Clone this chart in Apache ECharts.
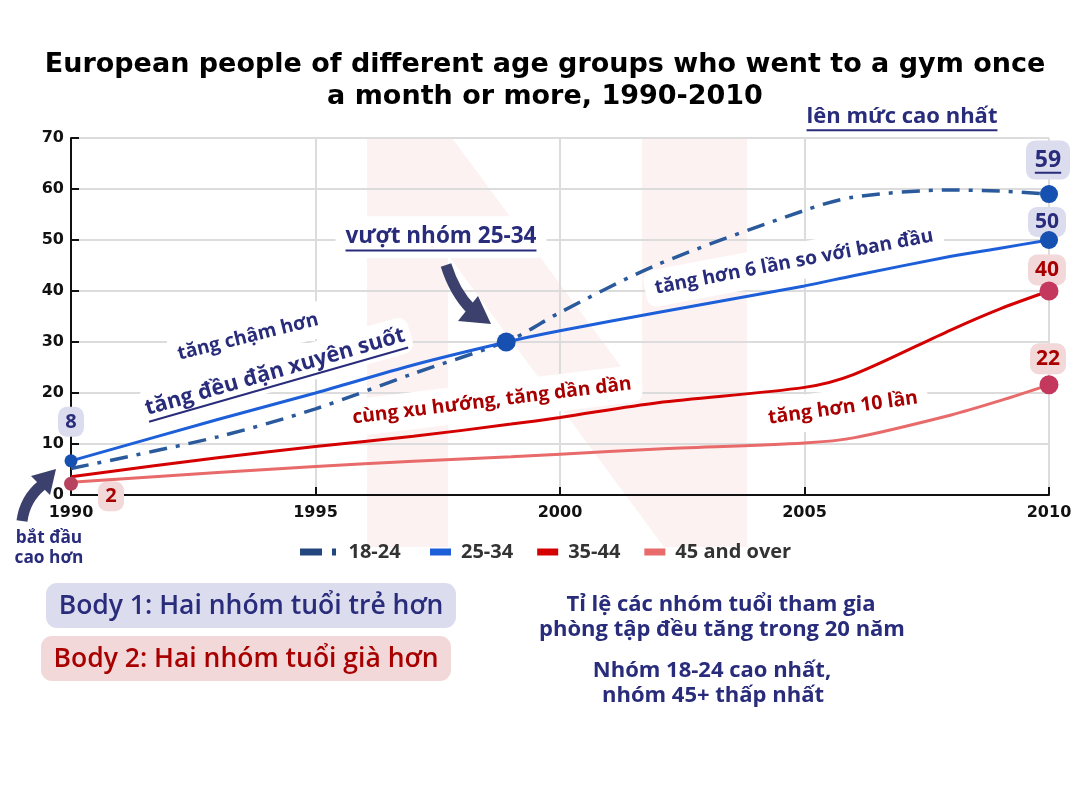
<!DOCTYPE html>
<html><head><meta charset="utf-8">
<script src="https://cdn.jsdelivr.net/npm/echarts@6/dist/echarts.min.js"></script>
<style>html,body{margin:0;padding:0;background:#fff}#c{width:1080px;height:790px}</style>
</head><body><div id="c"></div>
<script>
// ---------- data ----------
const titleLines = ['European people of different age groups who went to a gym once', 'a month or more, 1990-2010'];
const years = [1990, 1993, 1995, 1997, 1999, 2000, 2002, 2005, 2006, 2008, 2009, 2010];
const age18_24 = [5.2, 11.4, 16.9, 23.8, 30.5, 35.8, 45.2, 55.8, 58.4, 59.8, 59.6, 59.0];
const age25_34 = [6.7, 14.8, 20.0, 25.5, 30.2, 32.2, 35.8, 41.0, 43.0, 46.8, 48.4, 50.0];
const age35_44 = [3.6, 7.3, 9.5, 11.5, 13.9, 15.2, 18.1, 21.1, 23.6, 32.4, 36.5, 40.0];
const age45plus = [2.5, 4.4, 5.6, 6.6, 7.5, 8.0, 9.0, 10.2, 11.2, 15.7, 18.5, 21.6];
const seriesNames = ['18-24', '25-34', '35-44', '45 and over'];
const xTicks = [1990, 1995, 2000, 2005, 2010];
const yTicks = [0, 10, 20, 30, 40, 50, 60, 70];
const crossing = [1998.9, 30];           // where 18-24 overtakes 25-34
const endLabels = ['59', '50', '40', '22'];
const startLabels = ['8', '2'];          // 25-34 and 45+ in 1990

// ---------- styles ----------
const NAVY = '#282c7b', DRED = '#a80000';
const BLUE_M = '#1650b0', CRIM_M = '#c4385e';
const colors = ['#2a5a9c', '#1d5fd8', '#d40000', '#e86a6a'];
const OS = '"Open Sans", "Noto Sans", sans-serif';
const mctx = document.createElement('canvas').getContext('2d');
function tw(t, f) { mctx.font = f; return mctx.measureText(t).width; }

function pairs(vals) { return years.map((y, i) => [y, vals[i]]); }

const chart = echarts.init(document.getElementById('c'), null, { renderer: 'canvas' });
const labelTxt = { fontFamily: 'DejaVu Sans', fontWeight: 'bold', fontSize: 16, color: '#111' };
const legText = { fontFamily: OS, fontWeight: 'bold', fontSize: 20, color: '#333', padding: [0, 0, 0, 5] };

chart.setOption({
  backgroundColor: '#fff',
  animation: false,
  title: {
    text: titleLines.join('\n'), left: 540, top: 44, textAlign: 'center',
    textStyle: { fontFamily: 'DejaVu Sans', fontWeight: 'bold', fontSize: 27, color: '#000', lineHeight: 32 }
  },
  grid: { left: 71, right: 31, top: 138, bottom: 295, containLabel: false },
  xAxis: {
    type: 'value', min: xTicks[0], max: xTicks[xTicks.length - 1], interval: xTicks[1] - xTicks[0],
    axisLine: { lineStyle: { color: '#111', width: 2 } },
    axisTick: { show: true, inside: true, length: 8, lineStyle: { color: '#111', width: 2 } },
    axisLabel: Object.assign({ margin: 10, formatter: v => String(v) }, labelTxt),
    splitLine: { show: true, lineStyle: { color: '#dcdcdc', width: 2 } }
  },
  yAxis: {
    type: 'value', min: yTicks[0], max: yTicks[yTicks.length - 1], interval: yTicks[1] - yTicks[0],
    axisLine: { show: true, lineStyle: { color: '#111', width: 2 } },
    axisTick: { show: true, inside: true, length: 8, lineStyle: { color: '#111', width: 2 } },
    axisLabel: Object.assign({ margin: 7 }, labelTxt),
    splitLine: { show: true, lineStyle: { color: '#dcdcdc', width: 2 } }
  },
  legend: [
    { data: [{ name: seriesNames[0], icon: 'path://M0 0H22V7H0Z M32 0H36V7H32Z', itemStyle: { color: '#23467f' } }],
      left: 295, top: 537, itemWidth: 41, itemHeight: 7, textStyle: legText, itemStyle: { borderWidth: 0 }, selectedMode: false },
    { data: seriesNames.slice(1), left: 425, top: 537, itemWidth: 21, itemHeight: 7, itemGap: 24, icon: 'rect',
      textStyle: legText, itemStyle: { borderWidth: 0 }, selectedMode: false }
  ],
  series: [
    { name: seriesNames[0], type: 'line', data: pairs(age18_24), smooth: 0.3, symbol: 'none', z: 3,
      itemStyle: { color: colors[0] }, lineStyle: { color: colors[0], width: 3.5, type: [18, 9, 4, 9] } },
    { name: seriesNames[1], type: 'line', data: pairs(age25_34), smooth: 0.3, symbol: 'none', z: 3,
      itemStyle: { color: colors[1] }, lineStyle: { color: colors[1], width: 3 } },
    { name: seriesNames[2], type: 'line', data: pairs(age35_44), smooth: 0.3, symbol: 'none', z: 3,
      itemStyle: { color: colors[2] }, lineStyle: { color: colors[2], width: 3 } },
    { name: seriesNames[3], type: 'line', data: pairs(age45plus), smooth: 0.3, symbol: 'none', z: 3,
      itemStyle: { color: colors[3] }, lineStyle: { color: colors[3], width: 3 } },
    { name: 'markers', type: 'scatter', z: 5, clip: false, silent: true, itemStyle: { opacity: 1 },
      data: [
        { value: [years[years.length - 1], age18_24[age18_24.length - 1]], symbolSize: 18, itemStyle: { color: BLUE_M, opacity: 1 } },
        { value: [years[years.length - 1], age25_34[age25_34.length - 1]], symbolSize: 18, itemStyle: { color: BLUE_M, opacity: 1 } },
        { value: [years[years.length - 1], age35_44[age35_44.length - 1]], symbolSize: 19, itemStyle: { color: CRIM_M, opacity: 1 } },
        { value: [years[years.length - 1], age45plus[age45plus.length - 1]], symbolSize: 19, itemStyle: { color: CRIM_M, opacity: 1 } },
        { value: [years[0], age25_34[0]], symbolSize: 13, itemStyle: { color: BLUE_M, opacity: 1 } },
        { value: [years[0], age45plus[0] - 0.3], symbolSize: 14, itemStyle: { color: '#b8435f', opacity: 1 } },
        { value: crossing, symbolSize: 19, itemStyle: { color: BLUE_M, opacity: 1 } }
      ] }
  ]
});

// ---------- annotations ----------
const G = [];
// faint watermark "N"
G.push({ type: 'polygon', z: -10, silent: true,
  shape: { points: [[367,138],[452,138],[642,395],[642,138],[747,138],[747,547],[664,547],[448,255],[448,547],[367,547]] },
  style: { fill: '#fdf2f2' } });

function annot(a) {
  const font = `${a.weight || 700} ${a.size}px ${OS}`;
  const w = tw(a.text, font);
  const ch = [];
  if (a.bg) ch.push({ type: 'rect', z: 1, shape: { x: -w / 2 - (a.px || 10), y: -a.size * 0.75 - (a.py || 4), width: w + 2 * (a.px || 10), height: a.size * 1.5 + 2 * (a.py || 4), r: 10 }, style: { fill: a.bg } });
  ch.push({ type: 'text', z: 6, style: { text: a.text, x: 0, y: 0, font, fill: a.color, align: 'center', verticalAlign: 'middle', textAlign: 'center', textVerticalAlign: 'middle' } });
  if (a.underline) ch.push({ type: 'line', z: 6, shape: { x1: -w / 2, y1: a.size * 0.6, x2: w / 2, y2: a.size * 0.6 }, style: { stroke: a.color, lineWidth: 2 } });
  return { type: 'group', x: a.x, y: a.y, rotation: (a.rot || 0) * Math.PI / 180, children: ch, silent: true };
}
const annots = [
  { text: 'vượt nhóm 25-34', x: 441, y: 237, size: 22.5, color: NAVY, underline: true, bg: '#fff', px: 10, py: 4 },
  { text: 'tăng chậm hơn', x: 248, y: 337, rot: 14, size: 19.2, color: NAVY, bg: '#fff' },
  { text: 'tăng đều đặn xuyên suốt', x: 275, y: 372, rot: 16, size: 21.8, color: NAVY, underline: true, bg: '#fff', px: 6, py: 2 },
  { text: 'tăng hơn 6 lần so với ban đầu', x: 794, y: 262, rot: 10.7, size: 19.3, color: NAVY, bg: '#fff' },
  { text: 'cùng xu hướng, tăng dần dần', x: 492, y: 401, rot: 7, size: 19.3, color: DRED, bg: '#fff' },
  { text: 'tăng hơn 10 lần', x: 843, y: 408, rot: 7.7, size: 19.5, color: DRED, bg: '#fff' },
  { text: 'lên mức cao nhất', x: 902, y: 117, size: 22, color: NAVY, underline: true },
  { text: 'bắt đầu', x: 49, y: 538, size: 17.3, color: NAVY },
  { text: 'cao hơn', x: 49, y: 558, size: 17.3, color: NAVY }
];
annots.forEach(a => G.push(annot(a)));

// arrows
const ARC = '#3b416c';
G.push({ type: 'bezierCurve', z: 6, silent: true, shape: { x1: 446, y1: 265, cpx1: 452, cpy1: 284, cpx2: 459, cpy2: 297, x2: 471, y2: 309 }, style: { stroke: ARC, lineWidth: 11, fill: null } });
G.push({ type: 'polygon', z: 6, silent: true, shape: { points: [[458, 321], [491, 324], [478, 296]] }, style: { fill: ARC } });
G.push({ type: 'bezierCurve', z: 6, silent: true, shape: { x1: 22, y1: 521, cpx1: 24, cpy1: 505, cpx2: 31, cpy2: 494, x2: 42, y2: 485 }, style: { stroke: ARC, lineWidth: 11, fill: null } });
G.push({ type: 'polygon', z: 6, silent: true, shape: { points: [[31, 476], [56, 469], [50, 495]] }, style: { fill: ARC } });

// value label boxes, anchored to the data points
function valBox(pt, dx, dy, w, h, text, fill, color, size, underline) {
  const p = chart.convertToPixel({ gridIndex: 0 }, pt);
  const cx = p[0] + dx, cy = p[1] + dy;
  const font = `700 ${size}px ${OS}`;
  const t = tw(text, font);
  G.push({ type: 'rect', z: 1, silent: true, shape: { x: cx - w / 2, y: cy - h / 2, width: w, height: h, r: 9 }, style: { fill } });
  G.push({ type: 'text', z: 6, silent: true, style: { text, x: cx, y: cy, font, fill: color, align: 'center', verticalAlign: 'middle', textAlign: 'center', textVerticalAlign: 'middle' } });
  if (underline) G.push({ type: 'line', z: 6, silent: true, shape: { x1: cx - t / 2, y1: cy + size * 0.55, x2: cx + t / 2, y2: cy + size * 0.55 }, style: { stroke: color, lineWidth: 2 } });
}
const LAV = '#dcdcef', PNK = '#f2d8d8';
const yEnd = years[years.length - 1];
valBox([yEnd, age18_24[age18_24.length - 1]], -1, -34, 44, 39, endLabels[0], LAV, NAVY, 23, true);
valBox([yEnd, age25_34[age25_34.length - 1]], -2, -18, 38, 30, endLabels[1], LAV, NAVY, 21, false);
valBox([yEnd, age35_44[age35_44.length - 1]], -2, -21, 38, 31, endLabels[2], PNK, DRED, 21, false);
valBox([yEnd, age45plus[age45plus.length - 1]], -1, -26, 36, 31, endLabels[3], PNK, DRED, 21, false);
valBox([years[0], age25_34[0]], 0, -39, 26, 30, startLabels[0], LAV, NAVY, 20, false);
valBox([years[0], age45plus[0]], 40, 14, 26, 30, startLabels[1], PNK, DRED, 20, false);

// summary boxes
G.push({ type: 'rect', z: 1, silent: true, shape: { x: 46, y: 583, width: 410, height: 45, r: 11 }, style: { fill: LAV } });
G.push({ type: 'text', z: 6, silent: true, style: { text: 'Body 1: Hai nhóm tuổi trẻ hơn', x: 251, y: 606, font: `600 26.5px ${OS}`, fill: NAVY, align: 'center', verticalAlign: 'middle', textAlign: 'center', textVerticalAlign: 'middle' } });
G.push({ type: 'rect', z: 1, silent: true, shape: { x: 41, y: 636, width: 410, height: 45, r: 11 }, style: { fill: PNK } });
G.push({ type: 'text', z: 6, silent: true, style: { text: 'Body 2: Hai nhóm tuổi già hơn', x: 246, y: 659, font: `600 26.5px ${OS}`, fill: DRED, align: 'center', verticalAlign: 'middle', textAlign: 'center', textVerticalAlign: 'middle' } });

const notes = [
  ['Tỉ lệ các nhóm tuổi tham gia', 721, 605],
  ['phòng tập đều tăng trong 20 năm', 722, 630],
  ['Nhóm 18-24 cao nhất,', 712, 671],
  ['nhóm 45+ thấp nhất', 713, 696]
];
notes.forEach(n => G.push({ type: 'text', z: 6, silent: true, style: { text: n[0], x: n[1], y: n[2], font: `700 22px ${OS}`, fill: NAVY, align: 'center', verticalAlign: 'middle', textAlign: 'center', textVerticalAlign: 'middle' } }));

chart.setOption({ graphic: { elements: G } });
</script></body></html>
